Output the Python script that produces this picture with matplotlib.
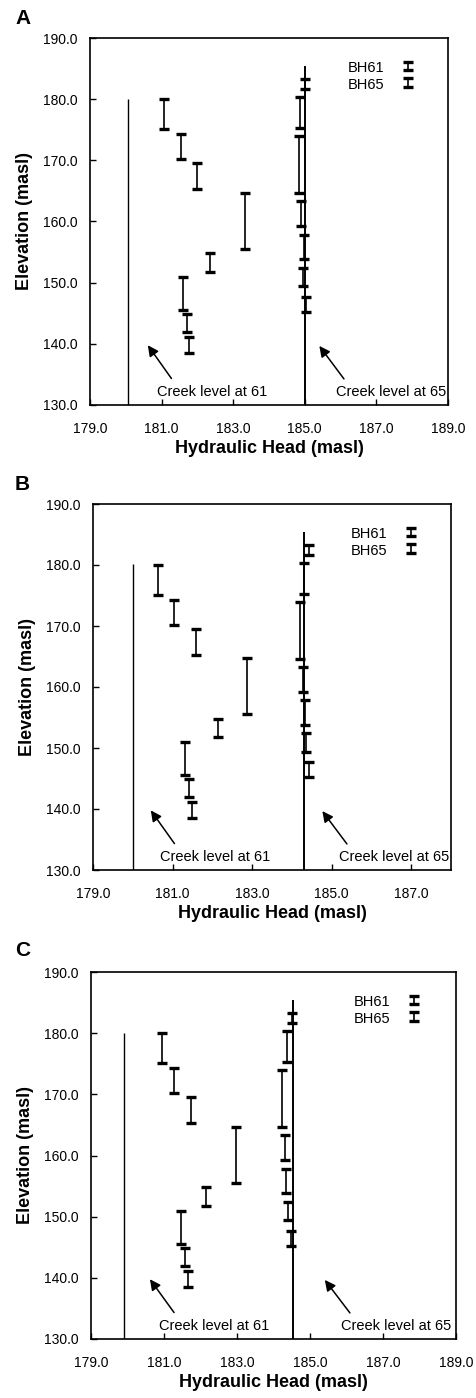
import matplotlib
matplotlib.use('Agg')
import matplotlib.pyplot as plt
from matplotlib.legend_handler import HandlerErrorbar
import numpy as np

plt.rcParams['font.family'] = ['Liberation Sans', 'DejaVu Sans']

# screened intervals (masl), same for all three panels
bh61_top = [180.0, 174.3, 169.5, 164.7, 154.8, 151.0, 144.9, 141.1]
bh61_bot = [175.1, 170.2, 165.3, 155.5, 151.8, 145.5, 142.0, 138.5]
bh65_top = [183.3, 180.3, 173.9, 163.3, 157.8, 152.4, 147.7]
bh65_bot = [181.7, 175.3, 164.6, 159.2, 153.8, 149.4, 145.2]

# hydraulic heads per panel
panels = ['A', 'B', 'C']
bh61_head = {
    'A': [181.07, 181.54, 181.99, 183.33, 182.35, 181.60, 181.72, 181.77],
    'B': [180.63, 181.03, 181.60, 182.88, 182.13, 181.31, 181.42, 181.48],
    'C': [180.95, 181.27, 181.75, 182.96, 182.16, 181.46, 181.57, 181.65],
}
bh65_head = {
    'A': [185.00, 184.86, 184.83, 184.89, 184.98, 184.95, 185.03],
    'B': [184.44, 184.31, 184.20, 184.29, 184.33, 184.35, 184.43],
    'C': [184.51, 184.36, 184.22, 184.32, 184.35, 184.41, 184.48],
}
creek61 = {'A': 180.05, 'B': 180.0, 'C': 179.9}
creek65 = {'A': 185.0, 'B': 184.31, 'C': 184.53}
creek61_top = 180.1
creek65_top = 185.4
xmax = {'A': 189.0, 'B': 188.0, 'C': 189.0}

W, H = 477, 1398
fig = plt.figure(figsize=(W / 100, H / 100), dpi=100)

# axes boxes in pixels: left, top, right, bottom
boxes = {'A': (90, 38, 448, 405), 'B': (93, 504, 451, 870), 'C': (91, 972, 456, 1339)}
letter_y = {'A': 18.5, 'B': 485, 'C': 951}

def err(top, bot):
    top = np.array(top); bot = np.array(bot)
    return (top + bot) / 2, (top - bot) / 2

for p in panels:
    l, t, r, b = boxes[p]
    ax = fig.add_axes([l / W, (H - b) / H, (r - l) / W, (b - t) / H])

    ax.vlines(creek61[p], 130, creek61_top, color='black', lw=1.0)
    ax.vlines(creek65[p], 130, creek65_top, color='black', lw=1.4)

    y, e = err(bh61_top, bh61_bot)
    h1 = ax.errorbar(bh61_head[p], y, yerr=e, fmt='none', ecolor='black',
                     elinewidth=1.2, capsize=3.7, capthick=2.4)
    y, e = err(bh65_top, bh65_bot)
    h2 = ax.errorbar(bh65_head[p], y, yerr=e, fmt='none', ecolor='black',
                     elinewidth=1.2, capsize=3.7, capthick=2.4)

    ax.set_xlim(179, xmax[p])
    ax.set_ylim(130, 190)
    ax.set_xticks(np.arange(179, xmax[p] + 0.1, 2))
    ax.set_yticks(np.arange(130, 190.1, 10))
    ax.xaxis.set_major_formatter(matplotlib.ticker.FormatStrFormatter('%.1f'))
    ax.yaxis.set_major_formatter(matplotlib.ticker.FormatStrFormatter('%.1f'))
    ax.tick_params(direction='in', length=4, width=1, labelsize=10)
    ax.tick_params(axis='x', pad=12)
    ax.tick_params(axis='y', pad=9)
    for s in ax.spines.values():
        s.set_linewidth(1.2)

    ax.set_xlabel('Hydraulic Head (masl)', fontsize=13, fontweight='bold', labelpad=3)
    ax.set_ylabel('Elevation (masl)', fontsize=13, fontweight='bold', labelpad=7)

    ax.legend([h1, h2], ['BH61', 'BH65'], loc='upper left', bbox_to_anchor=(0.704, 0.955),
              frameon=False, markerfirst=False, fontsize=10.5, handlelength=1.2,
              handleheight=1.0, handletextpad=1.0, labelspacing=0.15, borderaxespad=0,
              handler_map={type(h1): HandlerErrorbar(yerr_size=0.3)})

    ax.annotate('', xy=(0.157, 0.169), xytext=(0.232, 0.066), xycoords='axes fraction',
                arrowprops=dict(arrowstyle='-|>', color='black', lw=1.1, mutation_scale=16))
    ax.annotate('', xy=(0.636, 0.167), xytext=(0.714, 0.065), xycoords='axes fraction',
                arrowprops=dict(arrowstyle='-|>', color='black', lw=1.1, mutation_scale=16))
    ax.text(0.187, 0.036, 'Creek level at 61', transform=ax.transAxes, fontsize=10.5,
            va='center', ha='left')
    ax.text(0.686, 0.036, 'Creek level at 65', transform=ax.transAxes, fontsize=10.5,
            va='center', ha='left')

    fig.text(15 / W, 1 - letter_y[p] / H, p, fontsize=15, fontweight='bold',
             va='center', ha='left')

fig.savefig('out.png', dpi=100)
